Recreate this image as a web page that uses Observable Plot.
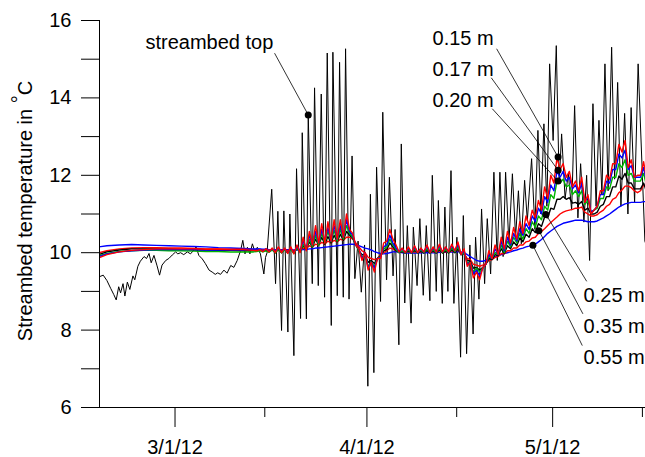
<!DOCTYPE html>
<html><head><meta charset="utf-8">
<script src="https://cdn.jsdelivr.net/npm/d3@7"></script>
<script src="https://cdn.jsdelivr.net/npm/@observablehq/plot@0.6"></script>
<style>body{margin:0;background:#fff}</style>
</head><body><div id="chart"></div>
<script>
// ---- time helper: days after 1 March 2012 (UTC) ----
const MAR1 = Date.UTC(2012, 2, 1);
const toDate = d => new Date(MAR1 + d * 864e5);

// ---- axis ticks ----
const yMajor = [6, 8, 10, 12, 14, 16];
const yMinor = [7, 9, 11, 13, 15];
const xMajorDays = [0, 31, 61];
const xMajorLabels = ["3/1/12", "4/1/12", "5/1/12"];
const xMinorDays = [14.5, 45.5, 75.5];
const xDomainDays = [-12.2, 76];

// ---- streambed top (black): [day after Mar 1, °C] ----
const streambedTop = [
[-12.2,9.38],[-11.6,9.42],[-11.0,9.28],[-10.4,9.08],[-9.9,8.92],[-9.5,8.78],[-9.1,9.12],[-8.8,8.96],[-8.4,9.2],[-8.1,8.88],
[-7.7,9.24],[-7.3,9.05],[-6.8,9.4],[-6.5,9.3],[-6.0,9.65],[-5.6,9.78],[-5.0,9.9],[-4.6,9.85],[-4.2,9.98],[-3.85,9.74],
[-3.4,9.93],[-2.9,9.66],[-2.5,9.42],[-2.1,9.68],[-1.5,9.8],[-1.0,9.85],[-0.45,9.94],[0.1,10.02],[0.45,9.97],[0.9,10.0],
[1.4,9.95],[2.0,10.02],[2.5,9.97],[3.0,10.06],[3.4,10.15],[3.85,9.93],[4.4,9.84],[4.9,9.72],[5.5,9.55],[6.0,9.5],
[6.5,9.44],[6.9,9.48],[7.35,9.44],[7.9,9.55],[8.4,9.47],[9.0,9.67],[9.5,9.62],[10.05,9.8],[10.6,10.06],[10.95,10.32],
[11.3,9.97],[11.7,10.14],[12.1,9.97],[12.5,10.23],[12.85,10.05],[13.3,10.14],[13.8,9.97],[14.35,9.45],
[14.62,9.88],[14.87,10.0],[15.62,11.64],[16.24,9.2],[16.61,11.07],[17.21,7.99],[17.58,11.08],[18.23,7.95],[18.55,11.0],[19.2,7.34],
[19.63,12.17],[20.28,8.3],[20.55,13.1],[21.22,8.29],[21.52,13.56],[22.17,9.2],[22.54,14.26],[23.14,9.15],[23.62,14.1],[24.16,8.85],
[24.59,15.16],[25.24,8.12],[25.5,15.18],[26.21,8.89],[26.58,14.92],[27.18,8.85],[27.55,15.27],[28.11,8.8],[28.6,12.5],[29.05,9.33],
[29.57,10.3],[30.09,8.98],[30.62,10.2],[31.15,6.55],[31.56,11.51],[32.12,6.9],[32.56,12.21],[33.2,8.74],[33.56,13.63],[34.17,9.3],
[34.63,11.95],[35.22,9.4],[35.55,10.6],[36.16,7.62],[36.55,12.81],[37.11,8.7],[37.53,10.7],[38.13,8.18],[38.5,10.66],[39.1,9.15],
[39.55,10.88],[40.1,8.9],[40.59,10.7],[41.17,8.76],[41.56,12.0],[42.2,9.0],[42.54,11.35],[43.17,8.69],[43.59,11.18],[44.08,9.0],
[44.58,12.12],[45.05,8.69],[45.53,10.4],[46.13,7.3],[46.57,10.96],[47.1,7.39],[47.63,10.2],[48.15,7.9],[48.55,10.4],[49.09,8.8],
[49.52,11.13],[50.01,9.2],[50.44,10.88],[50.98,9.45],[51.51,12.08],[52.06,9.8],[52.48,12.08],[53.0,9.9],[53.4,12.08],[53.93,10.23],
[54.5,12.04],[55.02,10.4],[55.47,11.6],[55.94,10.23],[56.47,11.87],[56.91,10.83],[57.6,12.43],[58.14,10.6],[58.62,13.16],[59.1,11.0],
[59.59,13.33],[60.07,11.2],[60.51,14.88],[61.08,12.9],[61.59,15.35],[62.05,11.8],[62.45,13.07],[63.01,11.4],[63.53,12.04],[64.07,11.1],
[64.55,13.8],[65.08,10.9],[65.52,12.3],[66.05,10.79],[66.49,12.0],[66.97,9.8],[67.51,13.85],[68.02,11.2],[68.48,13.42],[68.96,11.5],
[69.45,14.88],[69.96,11.6],[70.53,15.31],[71.01,11.9],[71.5,14.4],[72.03,11.2],[72.63,13.6],[73.16,11.0],[73.68,13.75],[74.24,11.3],
[74.81,14.88],[75.9,10.3],[76.1,10.2]
];

// ---- sensor depths: shared time grid (days after Mar 1) ----
const depthDays = [
-12.3,-11,-9,-7,-5,-3,-1,1,3,5,7,9,11,12.7,
13.2,13.7,14.2,14.7,15.2,15.7,16.2,16.7,17.2,17.7,18.2,18.7,19.2,19.7,20.2,20.7,21.2,21.7,22.2,22.7,
23.2,23.7,24.2,24.7,25.2,25.7,26.2,26.7,27.2,27.7,28.2,28.7,29.2,29.7,30.2,30.7,31.2,31.7,32.2,32.7,
33.2,33.7,34.2,34.7,35.2,35.7,36.2,36.7,37.2,37.7,38.2,38.7,39.2,39.7,40.2,40.7,41.2,41.7,42.2,42.7,
43.2,43.7,44.2,44.7,45.2,45.7,46.2,46.7,47.2,47.7,48.2,48.7,49.2,49.7,50.2,50.7,51.2,51.7,52.2,52.7,
53.2,53.7,54.2,54.7,55.2,55.7,56.2,56.7,57.2,57.7,58.2,58.7,59.2,59.7,60.2,60.7,61.2,61.7,62.2,62.7,
63.2,63.7,64.2,64.7,65.2,65.7,66.2,66.7,67.2,67.7,68.2,68.7,69.2,69.7,70.2,70.7,71.2,71.7,72.2,72.7,
73.2,73.7,74.2,74.7,75.2,75.7,
76.2
];

const temp015 = [
9.87,9.95,10.02,10.06,10.08,10.1,10.1,10.1,10.1,10.09,10.09,10.08,10.08,10.06,
10.05,10.08, 10.03,10.1, 10.02,10.12, 10.0,10.15, 10.0,10.12, 9.98,10.15, 9.97,10.2, 10.0,10.4, 10.05,10.55, 10.2,10.7,
10.25,10.75, 10.25,10.8, 10.3,10.85, 10.35,10.85, 10.4,11.0, 10.6,10.5, 10.2,10.1, 9.8,10.0, 9.55,9.75, 9.5,9.85,
9.85,10.25, 10.3,10.6, 10.35,10.2, 10.02,10.12, 10.0,10.15, 10.0,10.18, 10.0,10.12, 10.02,10.2, 10.0,10.15, 10.02,10.22,
10.02,10.15, 10.02,10.22, 10.05,10.28, 9.95,10.1, 9.65,9.75, 9.35,9.5, 9.3,9.6, 9.7,10.05, 9.85,10.2, 9.95,10.4,
10.1,10.55, 10.25,10.65, 10.35,10.8, 10.5,10.95, 10.7,11.1, 10.9,11.35, 11.1,11.7, 11.4,12.0, 11.8,12.45, 12.15,12.3,
11.95,12.1, 11.7,11.85, 11.6,11.95, 11.3,11.5, 11.0,11.1, 11.2,11.6, 11.6,12.0, 11.9,12.3, 12.3,12.8, 12.6,12.9,
12.2,12.4, 11.95,12.0, 12.0,12.35,
11.85
];
const temp017 = [
9.9,9.97,10.02,10.05,10.07,10.08,10.08,10.08,10.08,10.07,10.07,10.07,10.07,10.08,
10.07,10.09, 10.05,10.1, 10.04,10.1, 10.02,10.12, 10.02,10.1, 10.0,10.12, 10.0,10.16, 10.05,10.3, 10.1,10.45, 10.2,10.55,
10.25,10.6, 10.3,10.65, 10.3,10.7, 10.35,10.7, 10.4,10.85, 10.55,10.45, 10.2,10.1, 9.85,10.0, 9.6,9.75, 9.6,9.85,
9.88,10.15, 10.2,10.45, 10.25,10.12, 10.02,10.1, 10.0,10.12, 10.0,10.15, 10.0,10.1, 10.02,10.16, 10.0,10.12, 10.02,10.18,
10.02,10.13, 10.02,10.18, 10.05,10.22, 9.95,10.05, 9.7,9.75, 9.45,9.55, 9.4,9.6, 9.7,9.95, 9.85,10.1, 9.95,10.3,
10.05,10.4, 10.2,10.5, 10.3,10.62, 10.45,10.75, 10.6,10.95, 10.8,11.15, 11.0,11.45, 11.3,11.75, 11.6,12.1, 11.95,12.1,
11.85,11.95, 11.65,11.75, 11.55,11.8, 11.3,11.45, 11.05,11.1, 11.2,11.5, 11.5,11.85, 11.8,12.15, 12.15,12.55, 12.45,12.65,
12.15,12.25, 11.95,11.95, 11.95,12.2,
11.8
];
const temp020 = [
9.92,9.98,10.03,10.05,10.06,10.06,10.05,10.05,10.04,10.03,10.03,10.02,10.02,10.02,
10.03,10.05, 10.02,10.05, 10.01,10.07, 10.0,10.08, 10.0,10.07, 9.99,10.08, 9.98,10.12, 10.02,10.22, 10.08,10.35, 10.15,10.45,
10.2,10.5, 10.25,10.55, 10.28,10.58, 10.3,10.6, 10.35,10.7, 10.5,10.4, 10.2,10.05, 9.9,9.95, 9.65,9.75, 9.65,9.85,
9.9,10.1, 10.15,10.35, 10.2,10.08, 10.0,10.05, 9.99,10.08, 9.99,10.1, 9.99,10.07, 10.0,10.1, 9.99,10.08, 10.0,10.12,
10.0,10.08, 10.0,10.12, 10.02,10.15, 9.95,10.0, 9.75,9.75, 9.5,9.6, 9.5,9.6, 9.7,9.9, 9.85,10.0, 9.95,10.2,
10.0,10.3, 10.15,10.4, 10.25,10.5, 10.35,10.62, 10.5,10.8, 10.65,10.95, 10.85,11.2, 11.1,11.5, 11.4,11.85, 11.8,11.9,
11.7,11.75, 11.5,11.6, 11.45,11.6, 11.25,11.35, 11.05,11.1, 11.15,11.4, 11.4,11.7, 11.65,11.95, 11.95,12.3, 12.2,12.4,
12.0,12.05, 11.85,11.85, 11.85,12.05,
11.7
];
const temp025 = [
9.95,10.02,10.07,10.1,10.1,10.1,10.09,10.08,10.07,10.07,10.06,10.06,10.05,10.05,
10.05,10.07, 10.03,10.06, 10.03,10.08, 10.0,10.1, 10.0,10.08, 10.0,10.1, 10.0,10.12, 10.03,10.18, 10.08,10.28, 10.15,10.35,
10.2,10.4, 10.22,10.42, 10.25,10.45, 10.28,10.48, 10.32,10.55, 10.45,10.38, 10.2,10.05, 9.95,9.95, 9.75,9.8, 9.72,9.85,
9.92,10.05, 10.08,10.25, 10.15,10.05, 10.0,10.03, 9.99,10.05, 9.99,10.06, 9.99,10.04, 9.99,10.06, 9.99,10.05, 9.99,10.08,
9.99,10.05, 9.99,10.08, 10.0,10.1, 9.95,9.98, 9.8,9.78, 9.6,9.62, 9.55,9.62, 9.7,9.85, 9.82,9.95, 9.92,10.1,
9.98,10.18, 10.1,10.28, 10.18,10.38, 10.28,10.48, 10.4,10.62, 10.52,10.75, 10.68,10.92, 10.9,11.15, 11.12,11.38, 11.38,11.45,
11.38,11.42, 11.28,11.3, 11.25,11.32, 11.1,11.15, 11.0,11.0, 11.05,11.2, 11.25,11.45, 11.45,11.7, 11.7,11.98, 11.9,12.05,
11.8,11.8, 11.65,11.65, 11.65,11.8,
11.55
];
const temp035 = [
10.0,10.05,10.1,10.12,10.13,10.13,10.12,10.12,10.11,10.1,10.1,10.09,10.09,10.08,
10.08,10.08, 10.07,10.08, 10.07,10.08, 10.05,10.08, 10.05,10.08, 10.05,10.08, 10.05,10.1, 10.07,10.12, 10.1,10.18, 10.15,10.22,
10.2,10.27, 10.22,10.3, 10.25,10.32, 10.28,10.35, 10.32,10.4, 10.4,10.35, 10.25,10.15, 10.05,10.0, 9.88,9.85, 9.82,9.85,
9.95,10.0, 10.05,10.12, 10.1,10.05, 10.03,10.03, 10.0,10.03, 10.0,10.03, 10.0,10.03, 10.0,10.05, 10.0,10.03, 10.0,10.05,
10.0,10.03, 10.0,10.05, 10.02,10.07, 9.98,9.98, 9.85,9.82, 9.7,9.68, 9.65,9.68, 9.72,9.8, 9.82,9.88, 9.9,9.98,
9.97,10.05, 10.05,10.12, 10.12,10.2, 10.2,10.28, 10.3,10.38, 10.4,10.5, 10.55,10.62, 10.7,10.78, 10.85,10.92, 11.0,11.05,
11.08,11.1, 11.12,11.15, 11.15,11.18, 11.05,11.0, 10.95,10.95, 10.98,11.05, 11.1,11.2, 11.25,11.38, 11.42,11.55, 11.62,11.72,
11.72,11.68, 11.6,11.55, 11.6,11.75,
11.7
];
const temp055 = [
10.15,10.18,10.2,10.21,10.2,10.19,10.18,10.17,10.16,10.15,10.13,10.12,10.11,10.1,
10.1,10.1, 10.09,10.09, 10.08,10.08, 10.08,10.08, 10.08,10.08, 10.08,10.08, 10.07,10.07, 10.07,10.08, 10.08,10.1, 10.1,10.12,
10.12,10.13, 10.14,10.15, 10.16,10.17, 10.18,10.19, 10.2,10.21, 10.22,10.22, 10.2,10.18, 10.15,10.12, 10.1,10.07, 10.03,10.0,
9.98,9.97, 9.98,10.0, 10.02,10.03, 10.02,10.0, 10.0,9.99, 9.99,9.99, 9.99,10.0, 10.0,10.0, 10.0,10.0, 10.0,10.01,
10.01,10.01, 10.01,10.02, 10.02,10.03, 10.02,10.0, 9.95,9.9, 9.85,9.8, 9.78,9.78, 9.8,9.85, 9.88,9.9, 9.92,9.95,
9.98,10.0, 10.02,10.05, 10.07,10.1, 10.12,10.15, 10.17,10.2, 10.22,10.28, 10.34,10.42, 10.5,10.56, 10.62,10.68, 10.72,10.76,
10.78,10.8, 10.82,10.84, 10.84,10.84, 10.82,10.8, 10.8,10.8, 10.82,10.86, 10.9,10.95, 11.0,11.06, 11.12,11.18, 11.22,11.26,
11.28,11.3, 11.3,11.3, 11.3,11.32,
11.32
];

const depthNames = ["0.55 m", "0.35 m", "0.25 m", "0.20 m", "0.17 m", "0.15 m"];
const depthColors = ["#0000ff", "#ff0000", "#000000", "#00b400", "#0000ff", "#ff0000"];
const depthValues = [temp055, temp035, temp025, temp020, temp017, temp015];

// ---- annotations (label anchor, leader start, marker point) ----
const labelText = ["streambed top", "0.15 m", "0.17 m", "0.20 m", "0.25 m", "0.35 m", "0.55 m"];
const labelDay = [-4.77, 41.6, 41.6, 41.6, 66.0, 66.0, 66.0];
const labelTemp = [15.44, 15.52, 14.74, 13.92, 8.88, 8.10, 7.30];
const leaderDay = [16.08, 51.95, 51.09, 51.25, 66.5, 65.89, 65.79];
const leaderTemp = [15.155, 15.27, 14.52, 13.72, 9.26, 8.42, 7.60];
const markerDay = [21.52, 61.88, 61.88, 61.88, 59.91, 58.78, 57.81];
const markerTemp = [13.56, 12.47, 12.13, 11.85, 10.99, 10.57, 10.19];

// ---- build tables ----
depthValues.forEach((v, k) => {
  if (v.length !== depthDays.length) throw new Error("length mismatch " + depthNames[k] + " " + v.length + " vs " + depthDays.length);
});
const topData = streambedTop.map(([d, t]) => ({date: toDate(d), temp: t}));
const depthData = depthNames.map((name, k) => depthDays.map((d, i) => ({date: toDate(d), temp: depthValues[k][i], depth: name})));
const notes = labelText.map((t, i) => ({
  label: t,
  lx: toDate(labelDay[i]), ly: labelTemp[i],
  fx: toDate(leaderDay[i]), fy: leaderTemp[i],
  mx: toDate(markerDay[i]), my: markerTemp[i]
}));
const labelMap = new Map(xMajorDays.map((d, i) => [+toDate(d), xMajorLabels[i]]));

const plot = Plot.plot({
  width: 645, height: 457,
  marginLeft: 99, marginRight: 0, marginTop: 20, marginBottom: 50,
  style: {fontFamily: "'Liberation Sans', Arial, sans-serif", fontSize: "20px", color: "#000", background: "#fff"},
  x: {type: "utc", domain: xDomainDays.map(toDate)},
  y: {domain: [6, 16]},
  marks: [
    Plot.line(topData, {x: "date", y: "temp", stroke: "#000", strokeWidth: 1, clip: true}),
    ...depthData.map((data, k) => Plot.line(data, {x: "date", y: "temp", stroke: depthColors[k], strokeWidth: 1.4, clip: true})),
    Plot.link(notes, {x1: "fx", y1: "fy", x2: "mx", y2: "my", stroke: "#000", strokeWidth: 0.8}),
    Plot.dot(notes, {x: "mx", y: "my", r: 3.5, fill: "#000"}),
    Plot.text(notes, {x: "lx", y: "ly", text: "label", textAnchor: "start", lineAnchor: "middle", fill: "#000"}),
    Plot.ruleX([toDate(xDomainDays[0])], {stroke: "#000"}),
    Plot.ruleY([6], {stroke: "#000"}),
    Plot.axisY({ticks: yMajor, tickSize: 18, tickPadding: 10, label: null}),
    Plot.axisY({ticks: yMinor, tickSize: 18, tickFormat: () => "", label: null}),
    Plot.axisX({ticks: xMajorDays.map(toDate), tickSize: 20, tickPadding: 12, tickFormat: d => labelMap.get(+d), label: null}),
    Plot.axisX({ticks: xMinorDays.map(toDate), tickSize: 10, tickFormat: () => "", label: null})
  ]
});
document.getElementById("chart").appendChild(plot);

// rotated y-axis title with raised degree sign
const title = d3.select(plot).append("text")
  .attr("transform", "translate(31.5,211) rotate(-90)")
  .attr("text-anchor", "middle")
  .attr("fill", "#000")
  .style("font-size", "20px");
title.append("tspan").text("Streambed temperature in ");
title.append("tspan").attr("dy", -6).text("°");
title.append("tspan").attr("dy", 6).text("C");
</script>
</body></html>
